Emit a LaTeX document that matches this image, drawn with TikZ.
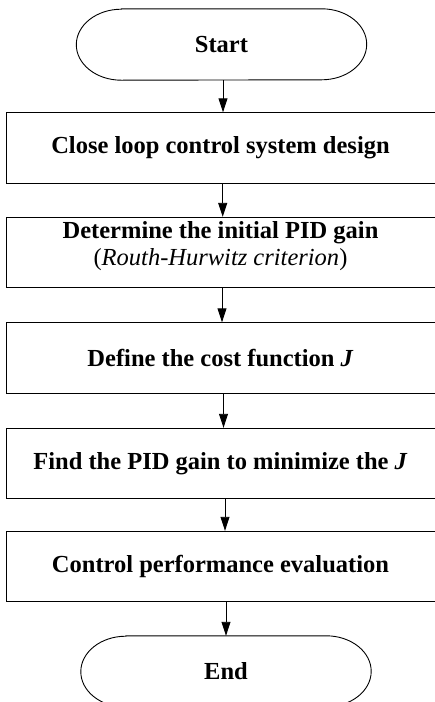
\documentclass[tikz,border=0pt]{standalone}
\usepackage{fontspec}
\setmainfont{Liberation Serif}
\usetikzlibrary{arrows.meta}
\tikzset{
  box/.style={draw=black, line width=0.9pt, rectangle, minimum width=429pt, minimum height=70.5pt, inner sep=0pt, align=center, font=\fontsize{24.5}{25}\selectfont\bfseries},
  boxtext/.style={inner sep=0pt, align=center, font=\fontsize{24.5}{27}\selectfont\bfseries},
  term/.style={rectangle, minimum width=290pt, minimum height=71pt, inner sep=0pt, font=\fontsize{24.5}{25}\selectfont\bfseries},
  outline/.style={draw=black, line width=0.9pt},
  arr/.style={draw=black, line width=0.9pt, -{Triangle[length=14pt,width=9pt]}}
}
\begin{document}
\begin{tikzpicture}[x=1pt,y=-1pt]
\useasboundingbox (0,0) rectangle (435,702);
% terminals
\node[term] (s) at (221.5,44.5) {Start};
\node[term] (e) at (226,671.5) {End};
\foreach \n in {s,e}{
  \draw[outline] ([xshift=45pt]\n.north west) -- ([xshift=-45pt]\n.north east)
    arc[start angle=90,end angle=-90,x radius=45pt,y radius=35.5pt]
    -- ([xshift=45pt]\n.south west)
    arc[start angle=270,end angle=90,x radius=45pt,y radius=35.5pt] -- cycle;
}
% process boxes
\node[box] (b1) at (220.5,148) {Close loop control system design};
\node[box] (b2) at (220.5,252.5) {};
\node[boxtext] (b2t) at (220.5,246) {Determine the initial PID gain\\{\mdseries(\itshape Routh-Hurwitz criterion\/\upshape)}};
\node[box] (b3) at (220.5,358) {Define the cost function \textit{J}};
\node[box] (b4) at (220.5,463.5) {Find the PID gain to minimize the \textit{J}};
\node[box] (b5) at (220.5,566.5) {Control performance evaluation};
% arrow columns
\coordinate (c1) at (223,0);
\coordinate (c2) at (222.7,0);
\coordinate (c3) at (222,0);
\coordinate (c4) at (223.5,0);
\coordinate (c5) at (225,0);
\coordinate (c6) at (226,0);
\draw[arr] (s.south -| c1) -- (b1.north -| c1);
\draw[arr] (b1.south -| c2) -- (b2.north -| c2);
\draw[arr] (b2.south -| c3) -- (b3.north -| c3);
\draw[arr] (b3.south -| c4) -- (b4.north -| c4);
\draw[arr] (b4.south -| c5) -- (b5.north -| c5);
\draw[arr] (b5.south -| c6) -- (e.north -| c6);
\end{tikzpicture}
\end{document}
